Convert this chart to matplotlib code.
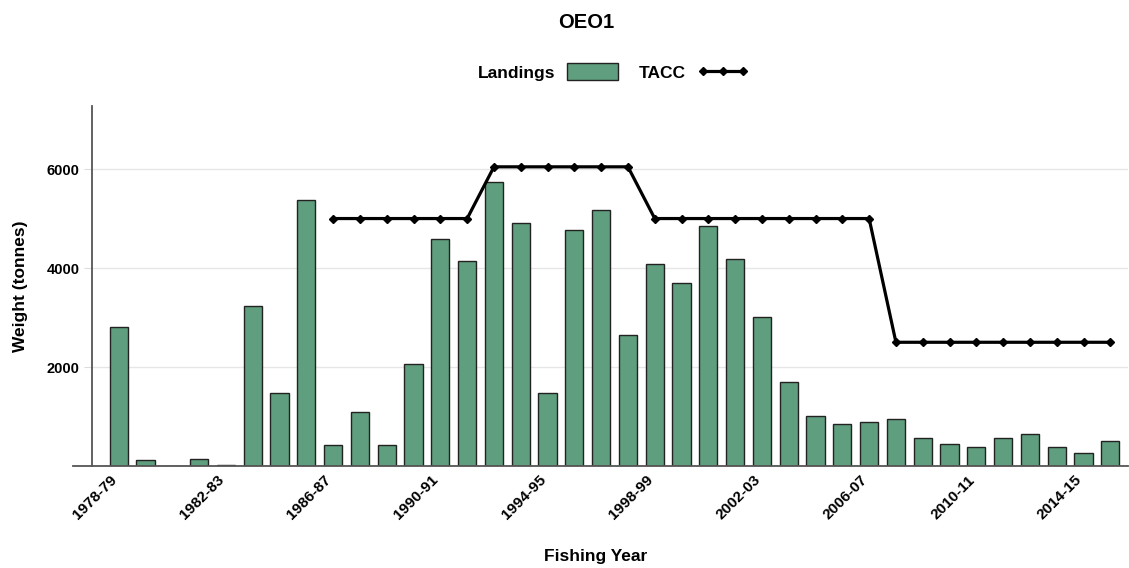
import numpy as np
import matplotlib.pyplot as plt
import matplotlib.transforms as mtransforms
from matplotlib.patches import Patch
from matplotlib.lines import Line2D

plt.rcParams['font.family'] = ['Liberation Sans', 'DejaVu Sans']
plt.rcParams['font.weight'] = 'bold'

# fishing years 1978-79 .. 2015-16
years = ['%d-%02d' % (y, (y + 1) % 100) for y in range(1978, 2016)]

landings = [2800, 130, 0, 150, 20, 3225, 1475, 5380, 420, 1090,
            420, 2055, 4585, 4140, 5730, 4900, 1470, 4765, 5170, 2655,
            4090, 3695, 4840, 4180, 3015, 1700, 1005, 850, 890, 940,
            575, 445, 380, 575, 650, 380, 265, 510]

tacc = [np.nan] * 8 + [5000] * 6 + [6045] * 6 + [5000] * 9 + [2500] * 9

bar_color = '#5f9e7e'

W, H = 1129, 568
fig = plt.figure(figsize=(W / 100, H / 100), dpi=100)
ax = fig.add_axes([92 / W, 1 - 466 / H, (1128 - 92) / W, (466 - 106) / H])

x = np.arange(len(years))
ax.bar(x, landings, width=0.68, color=bar_color, edgecolor='#222222',
       linewidth=1.0, zorder=2)
ax.plot(x, tacc, color='black', lw=2.3, marker='D', ms=4, zorder=3)

ax.set_xlim(-1.0, 37.66)
ax.set_ylim(0, 7274)
ax.set_yticks([2000, 4000, 6000])
ax.grid(axis='y', color='#e6e6e6', lw=1, zorder=0)
ax.set_axisbelow(True)

ax.set_xticks(x[::4])
ax.set_xticklabels(years[::4], rotation=45, ha='right', rotation_mode='anchor',
                   fontsize=11, fontweight='bold')
ax.tick_params(axis='x', length=0, pad=5)
shift = mtransforms.ScaledTranslation(-9 / 100, 0, fig.dpi_scale_trans)
for lbl in ax.get_xticklabels():
    lbl.set_transform(lbl.get_transform() + shift)
ax.tick_params(axis='y', length=6, color='#dddddd', labelsize=10.5, pad=3)
for lbl in ax.get_yticklabels():
    lbl.set_fontweight('bold')

for s in ['top', 'right']:
    ax.spines[s].set_visible(False)
ax.spines['left'].set_color('#555555')
ax.spines['left'].set_linewidth(1.3)
ax.spines['bottom'].set_color('#555555')
ax.spines['bottom'].set_linewidth(1.3)
ax.spines['bottom'].set_bounds(-1.7, 37.66)

ax.set_ylabel('Weight (tonnes)', fontsize=12.5, fontweight='bold', labelpad=13)
fig.text(596 / W, 1 - 557 / H, 'Fishing Year', fontsize=12.5,
         fontweight='bold', ha='center', va='center')

fig.text(586 / W, 1 - 22 / H, 'OEO1', fontsize=14.5, fontweight='bold',
         ha='center', va='center')

handles = [Patch(facecolor=bar_color, edgecolor='#222222', linewidth=1.0),
           Line2D([], [], color='black', lw=2.3, marker='D', ms=4)]
fig.legend(handles, ['Landings', 'TACC'], loc='center',
           bbox_to_anchor=(613 / W, 1 - 72 / H), ncol=2, frameon=False,
           markerfirst=False, numpoints=3, handlelength=2.9, handleheight=1.15,
           handletextpad=0.7, columnspacing=1.2,
           prop={'size': 12.5, 'weight': 'bold'})

fig.savefig('out.png', dpi=100)
